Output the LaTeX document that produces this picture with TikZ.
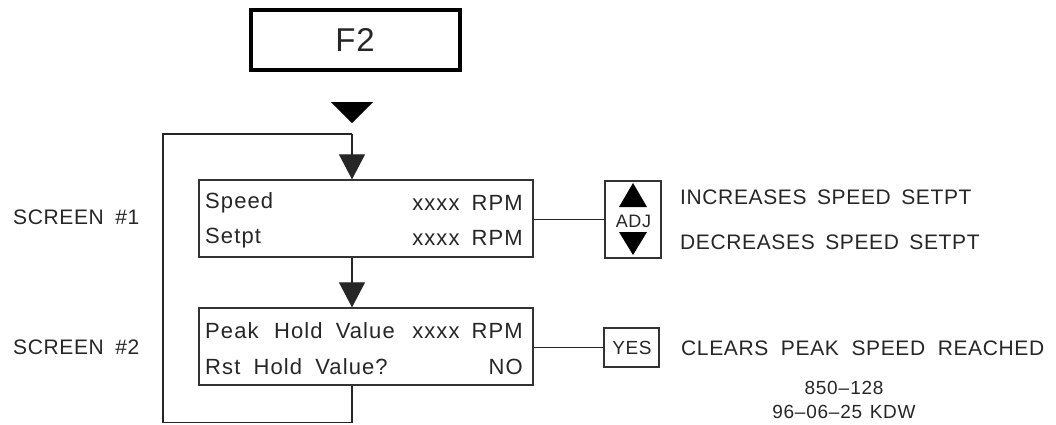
\documentclass[tikz,border=0pt]{standalone}
\usepackage{fontspec}
\setmainfont{Liberation Sans}
\newfontfamily\cadup[LetterSpace=3]{Liberation Sans}
\newfontfamily\cadlow[LetterSpace=5]{Liberation Sans}
\newfontfamily\cadnum[LetterSpace=4]{Liberation Sans}
\usetikzlibrary{arrows.meta}
\tikzset{
  txt/.style={inner sep=0pt, text=black!85, font=\cadup\fontsize{21}{21}\selectfont},
  lowtxt/.style={inner sep=0pt, text=black!85, font=\cadlow\fontsize{22}{22}\selectfont},
  smalltxt/.style={inner sep=0pt, text=black!85, font=\cadnum\fontsize{19}{19}\selectfont},
  screenbox/.style={draw=black!80, line width=1.3pt, minimum width=334pt, minimum height=77pt, inner sep=0pt},
  keybox/.style={draw=black!80, line width=1.2pt, inner sep=0pt},
  wire/.style={line width=1.2pt, draw=black!85},
  flow/.style={wire, -{Triangle[width=26pt,length=25pt]}},
}
\begin{document}
\begin{tikzpicture}[x=1pt,y=-1pt]
\useasboundingbox (0,0) rectangle (1056,424);
% F2 box
\node[draw, line width=3.6pt, minimum width=209pt, minimum height=60pt, inner sep=0pt] (f2) at (355.5,40) {};
\node[txt, font=\cadup\fontsize{33}{33}\selectfont] (f2t) at (355,40) {F2};
% standalone triangle
\fill (331,102) -- (373,102) -- (352,123) -- cycle;
% screens
\node[screenbox] (s1) at (366,218.5) {};
\node[screenbox] (s2) at (366,346.5) {};
\coordinate (loopbot) at (352,422.6);
\coordinate (loopbl) at (163,422.6);
\coordinate (looptl) at (163,134);
\coordinate (looptr) at (352,134);
\draw[wire] (s2.south -| loopbot) -- (loopbot) -- (loopbl) -- (looptl) -- (looptr);
\draw[flow] (looptr) -- (s1.north -| looptr);
\draw[flow] (s1.south -| looptr) -- (s2.north -| looptr);
% screen texts
\node[lowtxt, anchor=west] (t11) at (205,203) {Speed};
\node[lowtxt, anchor=east] (t12) at (523,203) {xxxx\hspace{0.55em}RPM};
\node[lowtxt, anchor=west] (t21) at (205,238) {Setpt};
\node[lowtxt, anchor=east] (t22) at (523,238) {xxxx\hspace{0.55em}RPM};
\node[lowtxt, anchor=west] (t31) at (205,331) {Peak\hspace{0.7em}Hold\hspace{0.6em}Value};
\node[lowtxt, anchor=east] (t32) at (523,331) {xxxx\hspace{0.55em}RPM};
\node[lowtxt, anchor=west] (t41) at (205,367) {Rst\hspace{0.6em}Hold\hspace{0.6em}Value?};
\node[lowtxt, anchor=east] (t42) at (523,367) {NO};
% screen labels
\node[txt, anchor=west] (l1) at (13,217) {SCREEN\hspace{0.55em}\#1};
\node[txt, anchor=west] (l2) at (13,347) {SCREEN\hspace{0.55em}\#2};
% ADJ key
\node[keybox, minimum width=56pt, minimum height=77pt] (adj) at (633,219.5) {};
\fill (619,207) -- (647,207) -- (633,183) -- cycle;
\fill (619,232) -- (647,232) -- (633,255) -- cycle;
\node[txt, font=\cadup\fontsize{18}{18}\selectfont] (adjt) at (633.5,221) {ADJ};
\draw[wire] (s1.east |- adj.west) -- (adj.west);
% YES key
\node[keybox, minimum width=55pt, minimum height=39pt] (yes) at (631.5,347.5) {};
\node[txt, font=\cadup\fontsize{19}{19}\selectfont] (yest) at (632,347.5) {YES};
\draw[wire] (s2.east |- yes.west) -- (yes.west);
% descriptions
\node[txt, anchor=west] (inc) at (680,197) {INCREASES\hspace{0.5em}SPEED\hspace{0.5em}SETPT};
\node[txt, anchor=west] (dec) at (680,242) {DECREASES\hspace{0.5em}SPEED\hspace{0.5em}SETPT};
\node[txt, anchor=west] (clr) at (681,348) {CLEARS\hspace{0.6em}PEAK\hspace{0.6em}SPEED\hspace{0.6em}REACHED};
\node[smalltxt] (num) at (844,388) {850\hspace{1pt}–\hspace{1pt}128};
\node[smalltxt] (date) at (844,412) {96–06–25\hspace{0.4em}KDW};
\end{tikzpicture}
\end{document}
